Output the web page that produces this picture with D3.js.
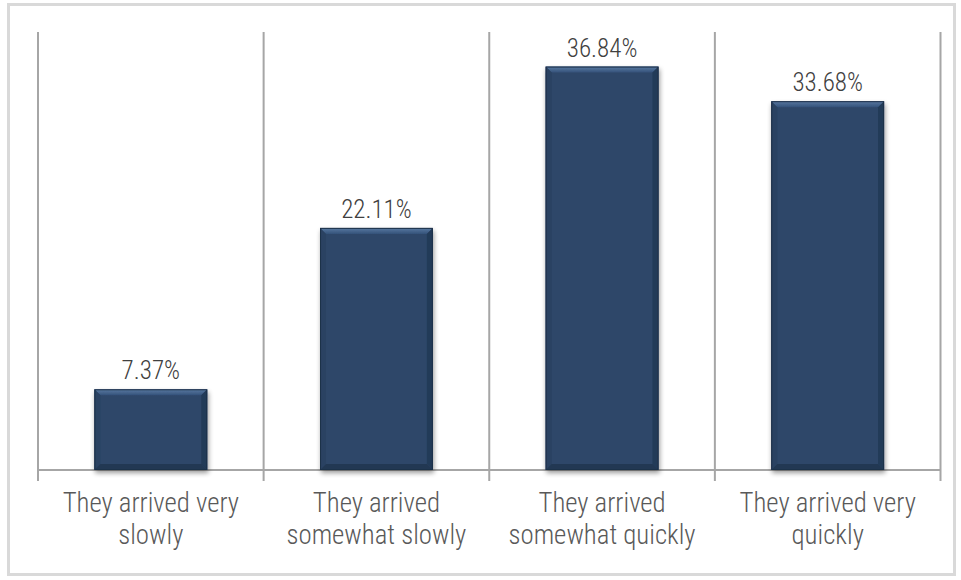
<!DOCTYPE html>
<html><head><meta charset="utf-8">
<script src="https://cdn.jsdelivr.net/npm/d3@7"></script>
<style>
html,body{margin:0;padding:0;background:#fff;}
svg{display:block;}
text{font-family:"Roboto Condensed","Liberation Sans Narrow","Arial Narrow",sans-serif;font-weight:300;}
</style></head>
<body>
<svg id="chart" width="961" height="580"></svg>
<script>
const categories = [["They arrived very","slowly"],["They arrived","somewhat slowly"],["They arrived","somewhat quickly"],["They arrived very","quickly"]];
const values = [7.37, 22.11, 36.84, 33.68];
const valueLabels = ["7.37%","22.11%","36.84%","33.68%"];
const yDomain = [0, 40];

const svg = d3.select("#chart");
const W = 961, H = 580;
const m = {left:38, right:20.5, top:32, bottom:110};

// outer frame
svg.append("rect").attr("x",8.5).attr("y",4.5).attr("width",946).attr("height",570)
  .attr("fill","#fff").attr("stroke","#d9d9d9").attr("stroke-width",3);

const x = d3.scaleBand().domain(d3.range(categories.length)).range([m.left, W-m.right]).paddingInner(0.5).paddingOuter(0.25);
const y = d3.scaleLinear().domain(yDomain).range([H-m.bottom, m.top]);

const defs = svg.append("defs");
const f = defs.append("filter").attr("id","shadow").attr("x","-20%").attr("y","-20%").attr("width","140%").attr("height","140%");
f.append("feGaussianBlur").attr("in","SourceAlpha").attr("stdDeviation",2.5).attr("result","b");
f.append("feOffset").attr("in","b").attr("dx",1).attr("dy",3).attr("result","o");
f.append("feComponentTransfer").attr("in","o").attr("result","o2").append("feFuncA").attr("type","linear").attr("slope",0.4);
const fm = f.append("feMerge"); fm.append("feMergeNode").attr("in","o2"); fm.append("feMergeNode").attr("in","SourceGraphic");
const tg = defs.append("linearGradient").attr("id","topbevel").attr("x1",0).attr("y1",0).attr("x2",0).attr("y2",1);
tg.append("stop").attr("offset",0).attr("stop-color","#5a7aa2");
tg.append("stop").attr("offset",1).attr("stop-color","#34527a");

// gridlines at category boundaries
const bounds = d3.range(categories.length+1).map(i => m.left + i*((W-m.right-m.left)/categories.length));
svg.append("g").selectAll("line").data(bounds).join("line")
  .attr("x1",d=>d).attr("x2",d=>d).attr("y1",y(yDomain[1])).attr("y2",y(0)+11)
  .attr("stroke","#a6a6a6").attr("stroke-width",2);
// baseline
svg.append("line").attr("x1",m.left).attr("x2",W-m.right).attr("y1",y(0)).attr("y2",y(0))
  .attr("stroke","#a6a6a6").attr("stroke-width",2);

// bars
const b = 6;
const g = svg.append("g").selectAll("g").data(values).join("g").attr("filter","url(#shadow)");
g.append("rect").attr("x",(d,i)=>x(i)).attr("y",d=>y(d)).attr("width",x.bandwidth()).attr("height",d=>y(0)-y(d)).attr("fill","#2e4769");
g.append("path").attr("fill","url(#topbevel)").attr("d",(d,i)=>{const x0=x(i),x1=x0+x.bandwidth(),y0=y(d);return `M${x0},${y0}L${x1},${y0}L${x1-b},${y0+b}L${x0+b},${y0+b}Z`;});
g.append("path").attr("fill","#2a4262").attr("d",(d,i)=>{const x0=x(i),y0=y(d),y1=y(0);return `M${x0},${y0}L${x0+b},${y0+b}L${x0+b},${y1-b}L${x0},${y1}Z`;});
g.append("path").attr("fill","#243a58").attr("d",(d,i)=>{const x1=x(i)+x.bandwidth(),y0=y(d),y1=y(0);return `M${x1},${y0}L${x1-b},${y0+b}L${x1-b},${y1-b}L${x1},${y1}Z`;});
g.append("path").attr("fill","#223753").attr("d",(d,i)=>{const x0=x(i),x1=x0+x.bandwidth(),y1=y(0);return `M${x0},${y1}L${x0+b},${y1-b}L${x1-b},${y1-b}L${x1},${y1}Z`;});
g.append("rect").attr("x",(d,i)=>x(i)+0.5).attr("y",d=>y(d)+0.5).attr("width",x.bandwidth()-1).attr("height",d=>y(0)-y(d)-1).attr("fill","none").attr("stroke","#1e3049").attr("stroke-width",1);

// value labels
svg.append("g").selectAll("text").data(values).join("text")
  .attr("x",(d,i)=>x(i)+x.bandwidth()/2).attr("y",d=>y(d)-10)
  .attr("text-anchor","middle").attr("font-size",25).attr("fill","#404040")
  .text((d,i)=>valueLabels[i]);

// category labels
const cl = svg.append("g").selectAll("text").data(categories).join("text")
  .attr("x",(d,i)=>x(i)+x.bandwidth()/2).attr("y",y(0)+42)
  .attr("text-anchor","middle").attr("font-size",26.8).attr("fill","#595959");
cl.selectAll("tspan").data(d=>d).join("tspan").attr("x",function(){return this.parentNode.getAttribute("x");})
  .attr("dy",(d,j)=>j===0?0:32).text(d=>d);
</script>
</body></html>
